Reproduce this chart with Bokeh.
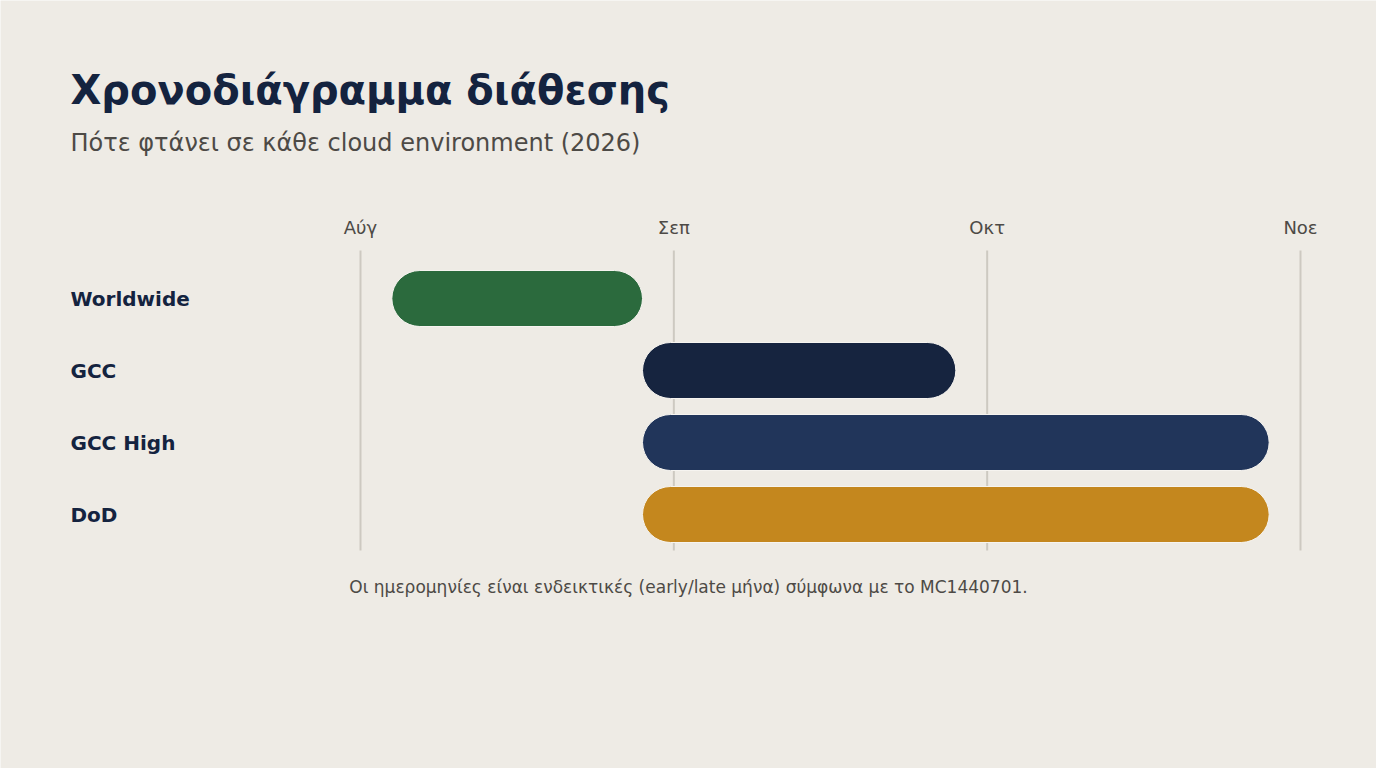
from bokeh.plotting import figure
from bokeh.models import Range1d, ColumnDataSource
from bokeh.core.properties import value
from bokeh.embed import file_html
from bokeh.resources import INLINE

# ---- data ----
environments = ["Worldwide", "GCC", "GCC High", "DoD"]
start_month = [0.1, 0.9, 0.9, 0.9]   # months after start of Aug 2026
end_month = [0.9, 1.9, 2.9, 2.9]
bar_colors = ["#2B6A3D", "#16243F", "#21355A", "#C4871E"]
month_labels = ["Αύγ", "Σεπ", "Οκτ", "Νοε"]
month_pos = [0, 1, 2, 3]

title_text = "Χρονοδιάγραμμα διάθεσης"
subtitle_text = "Πότε φτάνει σε κάθε cloud environment (2026)"
note_text = "Οι ημερομηνίες είναι ενδεικτικές (early/late μήνα) σύμφωνα με το MC1440701."

BG = "#EEEBE5"
NAVY = "#14233F"
GREY = "#4D4A46"
FONT = value("DejaVu Sans")

W, H = 1376, 768
px_per_month = 940 / 3.0
x0_px = 360.0            # px of month 0
row_px = 72.0
row0_px = 298.0          # px (from top) of first row centre

x_start = -x0_px / px_per_month
x_end = x_start + W / px_per_month
y_top = -row0_px / row_px
y_bottom = (H - row0_px) / row_px


def sx(px):
    return x_start + px / px_per_month


def sy(py):
    return (py - row0_px) / row_px


p = figure(width=W, height=H, output_backend="svg", toolbar_location=None,
           x_range=Range1d(x_start, x_end), y_range=Range1d(y_bottom, y_top),
           min_border=0, min_border_left=0, min_border_right=0,
           min_border_top=0, min_border_bottom=0)
p.xaxis.visible = False
p.yaxis.visible = False
p.grid.visible = False
p.outline_line_color = None
p.background_fill_color = BG
p.border_fill_color = BG

# vertical month gridlines
p.segment(x0=month_pos, x1=month_pos, y0=[sy(250)] * 4, y1=[sy(550)] * 4,
          line_color="#CDC9C1", line_width=2)

# month labels
p.text(x=month_pos, y=[sy(227)] * 4, text=month_labels, text_font=FONT,
       text_font_size="18px", text_color=GREY, text_align="center",
       text_baseline="middle")

# bars
rows = list(range(len(environments)))
src = ColumnDataSource(dict(y=rows, left=start_month, right=end_month, color=bar_colors))
p.hbar(y="y", left="left", right="right", height=56 / row_px, fill_color="color",
       line_color="#F6F4F0", line_width=1, border_radius=28, source=src)

# row labels
p.text(x=[sx(70)] * 4, y=rows, text=environments, text_font=FONT,
       text_font_size="20px", text_font_style="bold", text_color=NAVY,
       text_align="left", text_baseline="middle")

# title, subtitle, note
p.text(x=[sx(70)], y=[sy(89)], text=[title_text], text_font=FONT,
       text_font_size="40px", text_font_style="bold", text_color=NAVY,
       text_align="left", text_baseline="middle")
p.text(x=[sx(70)], y=[sy(142)], text=[subtitle_text], text_font=FONT,
       text_font_size="24px", text_color=GREY,
       text_align="left", text_baseline="middle")
p.text(x=[sx(688)], y=[sy(586)], text=[note_text], text_font=FONT,
       text_font_size="17px", text_color=GREY,
       text_align="center", text_baseline="middle")

html = file_html(p, INLINE)
html = html.replace("<body>", '<body style="background:%s;">' % BG, 1)
open("out.html", "w").write(html)
